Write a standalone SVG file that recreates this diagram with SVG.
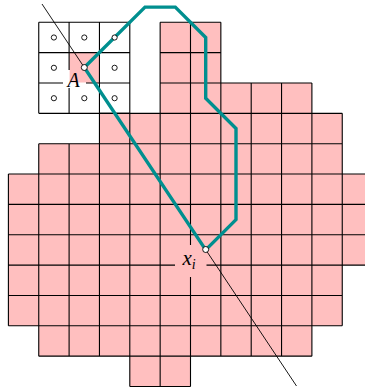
<svg xmlns="http://www.w3.org/2000/svg" width="365" height="391" viewBox="0 0 365 391">
<style>
.pink{fill:#ffbfbf;stroke:none}
.grid{fill:none;stroke:#000;stroke-width:1.1}
.pt{fill:#fff;stroke:#000;stroke-width:0.9}
.lbl{font-family:"Liberation Serif","DejaVu Serif",serif;font-style:italic;fill:#000}
</style>
<rect width="365" height="391" fill="#fff"/>
<g id="region">
<rect class="pink" x="160.15" y="22.3" width="60.7" height="30.35"/>
<rect class="pink" x="160.15" y="52.65" width="60.7" height="30.35"/>
<rect class="pink" x="160.15" y="83" width="151.75" height="30.35"/>
<rect class="pink" x="99.45" y="113.35" width="242.8" height="30.35"/>
<rect class="pink" x="38.75" y="143.7" width="303.5" height="30.35"/>
<rect class="pink" x="8.4" y="174.05" width="364.2" height="91.05"/>
<rect class="pink" x="8.4" y="265.1" width="333.85" height="60.7"/>
<rect class="pink" x="38.75" y="325.8" width="273.15" height="30.35"/>
<rect class="pink" x="129.8" y="356.15" width="60.7" height="30.35"/>
<rect class="pink" x="69.1" y="52.65" width="30.35" height="30.35"/>
<path class="grid" d="M160.15 22.3H220.85M160.15 52.65H220.85M160.15 83H311.9M99.45 113.35H342.25M38.75 143.7H342.25M8.4 174.05H372.6M8.4 204.4H372.6M8.4 234.75H372.6M8.4 265.1H372.6M8.4 295.45H342.25M8.4 325.8H342.25M38.75 356.15H311.9M129.8 386.5H190.5
M8.4 174.05V325.8M38.75 143.7V356.15M69.1 143.7V356.15M99.45 113.35V356.15M129.8 113.35V386.5M160.15 22.3V386.5M190.5 22.3V386.5M220.85 22.3V356.15M251.2 83V356.15M281.55 83V356.15M311.9 83V356.15M342.25 113.35V325.8"/>
</g>
<g id="neighbourhood-grid">
<path class="grid" d="M38.75 22.3H129.8M38.75 52.65H129.8M38.75 83H129.8M38.75 113.35H129.8M38.75 22.3V113.35M69.1 22.3V113.35M99.45 22.3V113.35M129.8 22.3V113.35"/>
</g>
<g id="label-patches">
<rect x="63" y="70" width="23" height="18" fill="#fff"/>
<rect x="69.6" y="70" width="16.4" height="12.5" fill="#ffbfbf"/>
<rect x="175" y="245" width="31.5" height="32" fill="#ffbfbf"/>
</g>
<g id="connectors">
<line x1="42" y1="4" x2="296.5" y2="386" stroke="#000" stroke-width="0.9"/>
<polygon points="84.3,67.5 145,7.1 175.3,7.1 205.7,37.5 205.7,98.2 236,128.5 236,219.6 205.7,249.9" fill="none" stroke="#008f8f" stroke-width="3.4" stroke-linejoin="miter"/>
</g>
<g id="neighbourhood-points">
<circle class="pt" cx="53.9" cy="37.5" r="2.6"/>
<circle class="pt" cx="84.3" cy="37.5" r="2.6"/>
<circle class="pt" cx="114.6" cy="37.5" r="2.6"/>
<circle class="pt" cx="53.9" cy="67.8" r="2.6"/>
<circle class="pt" cx="114.6" cy="67.8" r="2.6"/>
<circle class="pt" cx="53.9" cy="98.2" r="2.6"/>
<circle class="pt" cx="84.3" cy="98.2" r="2.6"/>
<circle class="pt" cx="114.6" cy="98.2" r="2.6"/>
</g>
<g id="A">
<circle class="pt" cx="84.3" cy="67.5" r="3"/>
<text class="lbl" x="73.5" y="86.5" font-size="20" text-anchor="middle">A</text>
</g>
<g id="xi">
<circle class="pt" cx="205.7" cy="249.5" r="3"/>
<text class="lbl" x="182.5" y="265" font-size="21">x<tspan font-size="14" dy="4">i</tspan></text>
</g>
</svg>
